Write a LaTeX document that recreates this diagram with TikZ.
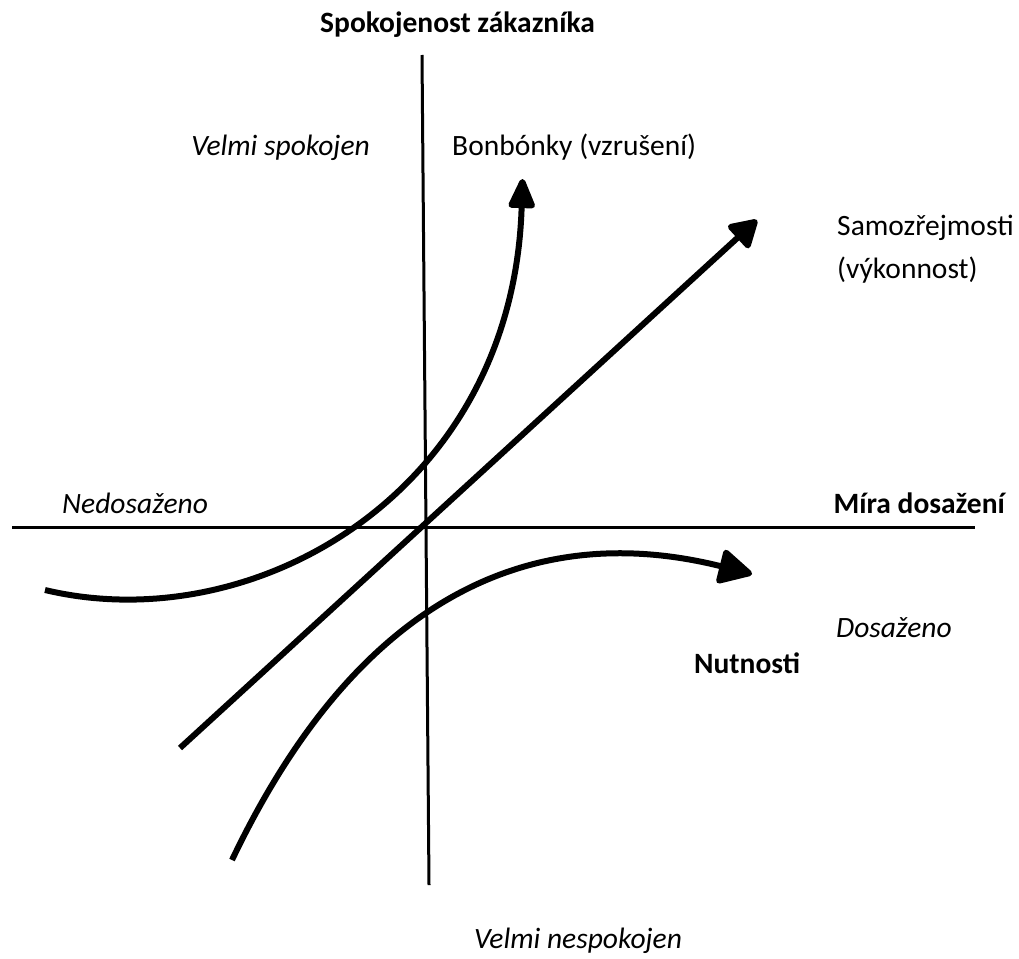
\documentclass[tikz,border=0pt]{standalone}
\usepackage{fontspec}
\setmainfont{Carlito}
\usetikzlibrary{arrows.meta}
\begin{document}
\begin{tikzpicture}[x=1pt,y=-1pt,
  axis/.style={line width=3pt},
  curve/.style={line width=6pt},
  txt/.style={inner sep=0pt, font=\fontsize{29.5}{35}\selectfont},
  txti/.style={txt, font=\fontsize{29.5}{35}\selectfont\itshape},
  txtb/.style={txt, font=\fontsize{29.5}{35}\selectfont\bfseries},
]
\useasboundingbox (0,0) rectangle (1019,958);
% axes
\coordinate (vt) at (422,55);
\coordinate (vb) at (429,885);
\coordinate (hl) at (12,527);
\coordinate (hr) at (975,527);
\draw[axis] (vt) -- (vb);
\draw[axis] (hl) -- (hr);
% straight arrow (Samozrejmosti)
\coordinate (s0) at (180,748);
\coordinate (s1) at (757,220);
\draw[curve, -{Triangle[length=30pt,width=34pt,round]}] (s0) -- (s1);
% Bonbonky curve
\coordinate (b0) at (45,590);
\coordinate (b1) at (255,640);
\coordinate (b2) at (513,492);
\coordinate (b3) at (522.5,179);
\draw[curve, -{Triangle[length=34pt,width=28pt,round]}]
  (b0) .. controls (b1) and (b2) .. (b3);
% Nutnosti curve
\coordinate (n0) at (232,860);
\coordinate (n1) at (368,575);
\coordinate (n2) at (552,524);
\coordinate (n3) at (752,574);
\draw[curve, -{Triangle[length=37pt,width=37pt,round]}]
  (n0) .. controls (n1) and (n2) .. (n3);
% labels
\node[txtb, anchor=base west] (title) at (320,33) {Spokojenost zákazníka};
\node[txti, anchor=base east] (vs) at (370,155) {Velmi spokojen};
\node[txt, anchor=base west] (bon) at (452,155) {Bonbónky (vzrušení)};
\node[txt, anchor=base west] (sam) at (837,235) {Samozřejmosti};
\node[txt, anchor=base west] (vyk) at (837,278) {(výkonnost)};
\node[txti, anchor=base west] (ned) at (62,513) {Nedosaženo};
\node[txtb, anchor=base east] (mira) at (1005,513) {Míra dosažení};
\node[txti, anchor=base west] (dos) at (836,637) {Dosaženo};
\node[txtb, anchor=base west] (nut) at (694,673) {Nutnosti};
\node[txti, anchor=base west] (vn) at (474,948) {Velmi nespokojen};
\end{tikzpicture}
\end{document}
